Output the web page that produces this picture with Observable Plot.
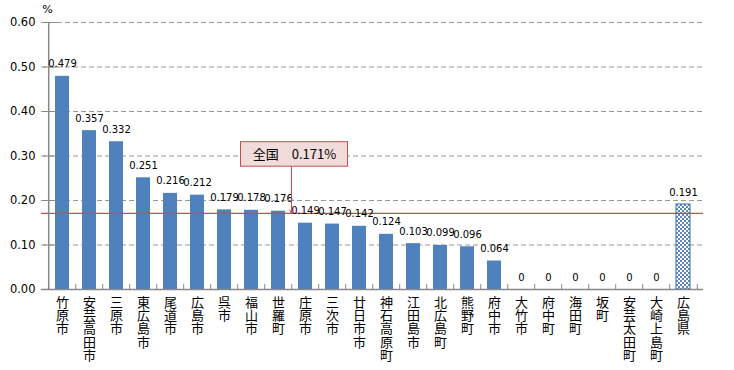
<!DOCTYPE html>
<html>
<head>
<meta charset="utf-8">
<script src="https://cdn.jsdelivr.net/npm/d3@7"></script>
<script src="https://cdn.jsdelivr.net/npm/@observablehq/plot@0.6"></script>
<style>
  html, body { margin: 0; padding: 0; background: #fff; }
  #chart { width: 734px; height: 370px; position: relative; }
</style>
</head>
<body>
<div id="chart"></div>
<script>
const categories = ["竹原市","安芸高田市","三原市","東広島市","尾道市","広島市","呉市","福山市","世羅町","庄原市","三次市","廿日市市","神石高原町","江田島市","北広島町","熊野町","府中市","大竹市","府中町","海田町","坂町","安芸太田町","大崎上島町","広島県"];
const values = [0.479,0.357,0.332,0.251,0.216,0.212,0.179,0.178,0.176,0.149,0.147,0.142,0.124,0.103,0.099,0.096,0.064,0,0,0,0,0,0,0.191];
const valueLabels = ["0.479","0.357","0.332","0.251","0.216","0.212","0.179","0.178","0.176","0.149","0.147","0.142","0.124","0.103","0.099","0.096","0.064","0","0","0","0","0","0","0.191"];
const yTicks = [0, 0.1, 0.2, 0.3, 0.4, 0.5, 0.6];
const yTickLabels = ["0.00","0.10","0.20","0.30","0.40","0.50","0.60"];
const unitLabel = "%";
const nationalValue = 0.171;
const nationalLabel = "全国　0.171%";
const noteCategory = "世羅町";
const noteBox = [0.276, 0.331];
const prefCategory = "広島県";

const data = categories.map((c, i) => ({cat: c, value: values[i], label: valueLabels[i]}));

const W = 734, H = 370;
const mL = 41, mR = 31, mT = 22, mB = 81;
const step = (W - mL - mR) / categories.length;

const numFont = "'DejaVu Sans', 'Liberation Sans', sans-serif";
const jpFont = "'Noto Sans CJK JP', sans-serif";
const gray = "#888888";
const blue = "#4F81BD";
const red = "#C0504D";

const plot = Plot.plot({
  width: W, height: H,
  marginLeft: mL, marginRight: mR, marginTop: mT, marginBottom: mB,
  style: {fontFamily: numFont, background: "#fff"},
  x: {domain: categories, paddingInner: 0.49, paddingOuter: 0.245, axis: null},
  y: {domain: [0, 0.6], axis: null},
  marks: [
    // gridlines
    Plot.ruleY(yTicks.filter(d => d > 0), {stroke: "#999", strokeDasharray: "5,3", strokeWidth: 1}),
    // bars
    Plot.barY(data.filter(d => d.cat !== prefCategory), {x: "cat", y: "value", fill: blue}),
    Plot.barY(data.filter(d => d.cat === prefCategory), {x: "cat", y: "value", fill: "url(#checker)", stroke: blue, strokeWidth: 1.2}),
    // national line
    Plot.ruleY([nationalValue], {stroke: red, strokeWidth: 1.2}),
    // y axis line
    Plot.ruleX([categories[0]], {y1: 0, y2: 0.6, dx: -step / 2, stroke: gray, strokeWidth: 1.5}),
    // y inner ticks
    Plot.tickY(yTicks.filter(d => d > 0), {y: d => d, x: () => categories[0], dx: -step/2 + 2, stroke: gray}),
    // x axis line
    Plot.ruleY([0], {stroke: gray, strokeWidth: 1.5}),
    // x ticks between categories
    Plot.ruleX(categories, {x: d => d, y1: 0, y2: 0.011, dx: -step / 2, stroke: gray}),
    Plot.ruleX([categories[categories.length - 1]], {x: d => d, y1: 0, y2: 0.011, dx: step / 2, stroke: gray}),
    // y tick labels
    Plot.text(yTicks, {y: d => d, text: (d, i) => yTickLabels[i], frameAnchor: "left", textAnchor: "end", dx: -6, fontSize: 11.5, fill: "#000"}),
    // unit label
    Plot.text([unitLabel], {y: 0.6, frameAnchor: "left", text: d => d, dx: 6, dy: -13, textAnchor: "middle", fontSize: 11, fill: "#000"}),
    // value labels
    Plot.text(data, {x: "cat", y: "value", text: "label", dy: -9, lineAnchor: "bottom", fontSize: 10, fill: "#000"}),
    // category labels
    Plot.text(categories, {x: d => d, text: d => d.split("").join("\n"), frameAnchor: "bottom", lineAnchor: "top", dy: 8, fontSize: 13, lineHeight: 1.02, fontFamily: jpFont, fill: "#000"}),
    // callout box
    Plot.barY([nationalLabel], {x: () => noteCategory, y1: noteBox[0], y2: noteBox[1], insetLeft: -30.5, insetRight: -62.5, fill: "#F2DCDB", stroke: red, strokeWidth: 1}),
    Plot.text([nationalLabel], {x: () => noteCategory, y: (noteBox[0] + noteBox[1]) / 2, text: d => d, dx: 16, fontSize: 13, fontFamily: jpFont, fill: "#000"}),
    Plot.arrow([nationalLabel], {x1: () => noteCategory, x2: () => noteCategory, y1: noteBox[0], y2: nationalValue, dx: 13, stroke: red, strokeWidth: 1, headLength: 6, bend: 0})
  ]
});

// checker pattern for prefecture bar
const ns = "http://www.w3.org/2000/svg";
const defs = document.createElementNS(ns, "defs");
const pat = document.createElementNS(ns, "pattern");
pat.setAttribute("id", "checker");
pat.setAttribute("patternUnits", "userSpaceOnUse");
pat.setAttribute("width", "4");
pat.setAttribute("height", "4");
const bg = document.createElementNS(ns, "rect");
bg.setAttribute("width", "4"); bg.setAttribute("height", "4"); bg.setAttribute("fill", "#ffffff");
pat.appendChild(bg);
[[0,0],[2,2]].forEach(([x,y]) => {
  const r = document.createElementNS(ns, "rect");
  r.setAttribute("x", x); r.setAttribute("y", y);
  r.setAttribute("width", "2"); r.setAttribute("height", "2");
  r.setAttribute("fill", "#5B84B8");
  pat.appendChild(r);
});
defs.appendChild(pat);
plot.insertBefore(defs, plot.firstChild);

document.getElementById("chart").appendChild(plot);
</script>
</body>
</html>
